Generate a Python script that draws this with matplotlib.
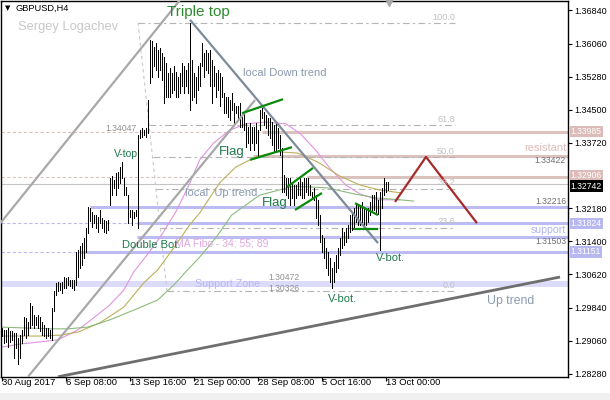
import matplotlib
matplotlib.use("Agg")
import matplotlib.pyplot as plt
from matplotlib.transforms import blended_transform_factory
from matplotlib.patches import Rectangle

plt.rcParams['font.family'] = ['Liberation Sans', 'DejaVu Sans']

# GBPUSD H4 bars, 30 Aug - 13 Oct 2017
highs = [1.2936, 1.2932, 1.2932, 1.2936, 1.2928, 1.2928, 1.2924, 1.2924, 1.2912, 1.2920,
         1.2932, 1.2963, 1.2959, 1.2951, 1.2994, 1.2987, 1.2967, 1.2963, 1.2967, 1.2963,
         1.2951, 1.2943, 1.2936, 1.2936, 1.2932, 1.2983, 1.3022, 1.3042, 1.3045, 1.3042,
         1.3045, 1.3057, 1.3053, 1.3057, 1.3049, 1.3049, 1.3049, 1.3116, 1.3120, 1.3128,
         1.3136, 1.3147, 1.3171, 1.3222, 1.3218, 1.3210, 1.3202, 1.3202, 1.3198, 1.3214,
         1.3195, 1.3191, 1.3187, 1.3191, 1.3289, 1.3293, 1.3285, 1.3300, 1.3304, 1.3316,
         1.3328, 1.3289, 1.3269, 1.3250, 1.3214, 1.3214, 1.3209, 1.3214, 1.3391, 1.3403,
         1.3406, 1.3403, 1.3406, 1.3473, 1.3614, 1.3611, 1.3599, 1.3607, 1.3591, 1.3595,
         1.3583, 1.3575, 1.3560, 1.3536, 1.3548, 1.3536, 1.3552, 1.3540, 1.3528, 1.3536,
         1.3560, 1.3552, 1.3544, 1.3560, 1.3654, 1.3567, 1.3536, 1.3528, 1.3552, 1.3560,
         1.3607, 1.3583, 1.3591, 1.3583, 1.3591, 1.3567, 1.3552, 1.3536, 1.3544, 1.3536,
         1.3528, 1.3489, 1.3481, 1.3481, 1.3473, 1.3489, 1.3465, 1.3458, 1.3458, 1.3465,
         1.3434, 1.3442, 1.3418, 1.3410, 1.3418, 1.3410, 1.3410, 1.3418, 1.3403, 1.3450,
         1.3454, 1.3445, 1.3438, 1.3431, 1.3431, 1.3421, 1.3414, 1.3421, 1.3407, 1.3391,
         1.3360, 1.3296, 1.3289, 1.3289, 1.3289, 1.3280, 1.3273, 1.3273, 1.3280, 1.3289,
         1.3280, 1.3289, 1.3289, 1.3289, 1.3273, 1.3256, 1.3266, 1.3249, 1.3238, 1.3202,
         1.3155, 1.3148, 1.3124, 1.3115, 1.3101, 1.3077, 1.3091, 1.3108, 1.3124, 1.3148,
         1.3172, 1.3162, 1.3172, 1.3179, 1.3202, 1.3209, 1.3219, 1.3226, 1.3226, 1.3226,
         1.3233, 1.3219, 1.3219, 1.3219, 1.3233, 1.3249, 1.3249, 1.3256, 1.3238, 1.3256,
         1.3266, 1.3289, 1.3280, 1.3280]
lows = [1.2916, 1.2900, 1.2904, 1.2892, 1.2904, 1.2908, 1.2865, 1.2888, 1.2851, 1.2865,
        1.2900, 1.2920, 1.2912, 1.2920, 1.2936, 1.2943, 1.2936, 1.2943, 1.2936, 1.2928,
        1.2920, 1.2916, 1.2912, 1.2916, 1.2912, 1.2908, 1.2975, 1.3014, 1.3022, 1.3026,
        1.3018, 1.3030, 1.3030, 1.3038, 1.3034, 1.3030, 1.3026, 1.3038, 1.3057, 1.3077,
        1.3085, 1.3100, 1.3116, 1.3159, 1.3187, 1.3175, 1.3183, 1.3171, 1.3163, 1.3183,
        1.3171, 1.3163, 1.3159, 1.3167, 1.3226, 1.3250, 1.3265, 1.3250, 1.3265, 1.3277,
        1.3289, 1.3250, 1.3250, 1.3183, 1.3198, 1.3179, 1.3195, 1.3200, 1.3172, 1.3383,
        1.3387, 1.3391, 1.3387, 1.3395, 1.3512, 1.3528, 1.3552, 1.3544, 1.3528, 1.3544,
        1.3520, 1.3465, 1.3481, 1.3481, 1.3481, 1.3489, 1.3497, 1.3481, 1.3481, 1.3489,
        1.3505, 1.3489, 1.3505, 1.3489, 1.3450, 1.3473, 1.3481, 1.3465, 1.3497, 1.3505,
        1.3552, 1.3528, 1.3544, 1.3536, 1.3505, 1.3465, 1.3505, 1.3481, 1.3497, 1.3458,
        1.3481, 1.3442, 1.3442, 1.3434, 1.3426, 1.3450, 1.3418, 1.3442, 1.3426, 1.3410,
        1.3410, 1.3403, 1.3363, 1.3371, 1.3355, 1.3371, 1.3355, 1.3371, 1.3340, 1.3403,
        1.3431, 1.3414, 1.3407, 1.3391, 1.3384, 1.3367, 1.3351, 1.3351, 1.3360, 1.3344,
        1.3256, 1.3256, 1.3249, 1.3242, 1.3226, 1.3242, 1.3226, 1.3242, 1.3249, 1.3249,
        1.3242, 1.3242, 1.3256, 1.3249, 1.3249, 1.3242, 1.3238, 1.3195, 1.3179, 1.3139,
        1.3115, 1.3101, 1.3077, 1.3061, 1.3044, 1.3030, 1.3044, 1.3068, 1.3077, 1.3108,
        1.3124, 1.3131, 1.3139, 1.3148, 1.3162, 1.3167, 1.3172, 1.3186, 1.3179, 1.3179,
        1.3186, 1.3172, 1.3179, 1.3186, 1.3202, 1.3209, 1.3214, 1.3209, 1.3205, 1.3120,
        1.3219, 1.3249, 1.3256, 1.3261]

# moving averages 34 / 55 / 89, sampled at bar positions
ma34_x = [0, 9, 19, 28, 38, 46, 54, 61, 66, 72, 79, 87, 93, 99, 106, 114, 122, 132,
          142, 149, 157, 164, 172, 179, 188, 199]
ma34 = [1.2891, 1.2898, 1.2903, 1.2908, 1.2931, 1.2960, 1.2990, 1.3025, 1.3068, 1.3104,
        1.3148, 1.3209, 1.3266, 1.3332, 1.3372, 1.3402, 1.3417, 1.3421, 1.3417, 1.3395,
        1.3355, 1.3313, 1.3273, 1.3252, 1.3238, 1.3238]
ma55_x = [0, 19, 29, 38, 49, 61, 71, 78, 87, 94, 99, 109, 117, 127, 138, 148, 158, 169,
          179, 189, 200]
ma55 = [1.2917, 1.2917, 1.2919, 1.2926, 1.2948, 1.2985, 1.3042, 1.3073, 1.3131, 1.3179,
        1.3207, 1.3278, 1.3315, 1.3339, 1.3351, 1.3348, 1.3327, 1.3294, 1.3273, 1.3261,
        1.3254]
ma89_x = [0, 24, 33, 43, 54, 66, 78, 86, 93, 99, 107, 115, 129, 146, 163, 176, 188, 199, 206]
ma89 = [1.2938, 1.2934, 1.2934, 1.2938, 1.2955, 1.2978, 1.3002, 1.3037, 1.3073, 1.3103,
        1.3148, 1.3202, 1.3249, 1.3270, 1.3266, 1.3252, 1.3242, 1.3238, 1.3235]

# date labels every 32 bars
date_ticks = [0, 32, 64, 96, 128, 160, 192]
date_labels = ["30 Aug 2017", "6 Sep 08:00", "13 Sep 16:00", "21 Sep 00:00",
               "28 Sep 08:00", "5 Oct 16:00", "13 Oct 00:00"]
price_ticks = [1.36840, 1.36060, 1.35280, 1.34500, 1.33720, 1.32180, 1.31400,
               1.30620, 1.29840, 1.29060, 1.28280]

# drawn objects: (bar, price) pairs
channel_top = [(-1, 1.3181), (89.2, 1.3709)]
channel_low = [(13.15, 1.2821), (126.65, 1.3473)]
down_trend = [(94.15, 1.3662), (188.15, 1.3136)]
up_trend = [(28.15, 1.2821), (279.15, 1.3056)]
flags = [[(120.15, 1.3442), (140.65, 1.3475)],
         [(124.15, 1.3332), (145.15, 1.3362)],
         [(142.65, 1.3268), (155.65, 1.3313)],
         [(146.65, 1.3214), (160.15, 1.3254)],
         [(176.65, 1.3230), (188.15, 1.3202)],
         [(175.65, 1.3169), (188.15, 1.3169)]]
projection = [(196.65, 1.3233), (212.15, 1.3339), (237.65, 1.3183)]

fibo_top, fibo_bottom = 1.3655, 1.3023
fibo_start = (68.15, 82.65)
fibo_end = 226.65
fibo_levels = [100.0, 61.8, 50.0, 38.2, 23.6, 0.0]

resist_dashed = [1.33985, 1.32906]
resist_solid = [(130.0, 1.33985), (125.65, 1.33422), (152.65, 1.32906)]
support_dashed = [1.31824, 1.31151]
support_solid = [(44.15, 1.32216), (67.65, 1.31824), (67.65, 1.31503), (39.15, 1.31151)]
zone = (1.30326, 1.30472)
bid = 1.32742

XMIN, XMAX = -0.35, 283.15
YMIN, YMAX = 1.28205, 1.37063

fig = plt.figure(figsize=(6.1, 4.0), dpi=100)
fig.patches.append(Rectangle((0, 0), 1, 7 / 400, transform=fig.transFigure,
                             facecolor='#f0f0f0', edgecolor='none'))
ax = fig.add_axes([1 / 610, 23 / 400, 567 / 610, 376 / 400])
ax.set_xlim(XMIN, XMAX)
ax.set_ylim(YMIN, YMAX)

PINK = '#dcc2be'
BLUE = '#bcbcf2'
GRN = '#1f7a4a'
SLATE = '#8a9ab0'

# horizontal levels
ax.axhspan(zone[0], zone[1], color='#dcdcfa', lw=0, zorder=1)
for p in resist_dashed:
    ax.axhline(p, color=PINK, lw=0.8, ls=(0, (3, 2)), zorder=1)
for p in support_dashed:
    ax.axhline(p, color=BLUE, lw=0.8, ls=(0, (3, 2)), zorder=1)
for x0, p in resist_solid:
    ax.plot([x0, XMAX], [p, p], color=PINK, lw=2.2, zorder=1, solid_capstyle='butt')
for x0, p in support_solid:
    ax.plot([x0, XMAX], [p, p], color=BLUE, lw=2.2, zorder=1, solid_capstyle='butt')
ax.axhline(bid, color='#c4c4c4', lw=0.8, zorder=1)

# fibo retracement
rng = fibo_top - fibo_bottom
ax.plot(fibo_start, [fibo_top, fibo_bottom], color='#c8c8c8', lw=0.8,
        ls=(0, (3, 3)), zorder=1)
for lv in fibo_levels:
    p = fibo_bottom + rng * lv / 100
    xs = fibo_start[0] + (fibo_top - p) / rng * (fibo_start[1] - fibo_start[0])
    ax.plot([xs, fibo_end], [p, p], color='#b4b4b4', lw=0.8,
            ls=(0, (6, 3, 2, 3)), zorder=1)
    ax.text(fibo_end, p + 0.0003, f"{lv:.1f}", color='#c0c0c0', fontsize=6.6,
            ha='right', va='bottom', zorder=5)

# moving averages
ax.plot(ma34_x, ma34, color='#e094e0', lw=0.8, zorder=2)
ax.plot(ma55_x, ma55, color='#bcb05a', lw=0.8, zorder=2)
ax.plot(ma89_x, ma89, color='#8cbc7c', lw=0.8, zorder=2)

# price bars
bars = list(range(len(highs)))
ax.vlines(bars, lows, highs, color='black', lw=0.72, antialiased=False, zorder=3)


def seg(points, **kw):
    xs, ys = zip(*points)
    ax.plot(xs, ys, zorder=4, solid_capstyle='butt', **kw)


seg(channel_top, color='#a8a8a8', lw=1.6)
seg(channel_low, color='#a8a8a8', lw=1.6)
seg(down_trend, color='#7d8b9b', lw=1.6)
seg(up_trend, color='#6e6e6e', lw=2.0)
for f in flags:
    seg(f, color='#0a8a0a', lw=1.6)
seg(projection, color='#a52a2a', lw=1.6)


# text annotations
def note(x, y, s, color, size, ha='left', va='center'):
    ax.text(x, y, s, color=color, fontsize=size, ha=ha, va=va, zorder=5)


note(82.65, 1.3680, "Triple top", '#2e8a2e', 11)
note(120.65, 1.3537, "local Down trend", SLATE, 8)
note(108.65, 1.3351, "Flag", GRN, 9.5)
note(130.15, 1.3230, "Flag", GRN, 9.5)
note(56.15, 1.3346, "V-top", GRN, 7.5)
note(91.65, 1.3254, "local  Up trend", SLATE, 8)
note(86.65, 1.3136, "MA Fibo - 34; 55; 89", '#e0a8e0', 7.5)
note(60.15, 1.3131, "Double Bot.", GRN, 8)
note(187.15, 1.3101, "V-bot.", GRN, 8)
note(163.15, 1.3004, "V-bot.", GRN, 8)
note(96.65, 1.3040, "Support Zone", '#b8b8f0', 7.7)
note(242.65, 1.2999, "Up trend", SLATE, 8.8)
note(67.65, 1.3407, "1.34047", '#909090', 6.2, ha='right')
note(149.15, 1.3054, "1.30472", '#909090', 6.2, ha='right')
note(149.15, 1.3030, "1.30326", '#909090', 6.2, ha='right')
note(282.2, 1.3330, "1.33422", '#707070', 6.2, ha='right')
note(282.2, 1.3235, "1.32216", '#707070', 6.2, ha='right')
note(282.2, 1.3139, "1.31503", '#707070', 6.2, ha='right')
note(282.2, 1.3360, "resistant", '#dcbcb8', 8, ha='right')
note(282.2, 1.3167, "support", '#b4b4f0', 7.6, ha='right')

fig.text(18 / 610, 1 - 27 / 400, "Sergey Logachev", color='#c8c8c8', fontsize=9.3,
         ha='left', va='center')
fig.text(16 / 610, 1 - 8 / 400, "GBPUSD,H4", color='black', fontsize=6.7,
         ha='left', va='center')
fig.text(8 / 610, 1 - 8 / 400, "\u25bc", color='black', fontsize=5,
         ha='center', va='center', family='DejaVu Sans')

# axes styling
for sp in ax.spines.values():
    sp.set_color('black')
    sp.set_linewidth(1.0)
ax.yaxis.tick_right()
ax.set_yticks(price_ticks)
ax.set_yticklabels([f"{p:.5f}" for p in price_ticks])
ax.tick_params(axis='y', direction='out', length=3, width=0.8, pad=1.5,
               labelsize=6.5, colors='black')
ax.set_xticks(date_ticks)
ax.set_xticklabels(date_labels)
ax.tick_params(axis='x', direction='out', length=3, width=0.8, pad=-2,
               labelsize=6.8, colors='black')
for lbl in ax.get_xticklabels():
    lbl.set_ha('left')

# value boxes on the price scale (the two close ones nudged apart a little)
trans = blended_transform_factory(ax.transAxes, ax.transData)
value_boxes = [(1.33985, 1.33985, '#dcbcb8'), (1.32906, 1.32946, '#dcbcb8'),
               (1.32742, 1.32700, 'black'), (1.31824, 1.31824, '#b8b8f0'),
               (1.31151, 1.31151, '#b8b8f0')]
for p, ypos, c in value_boxes:
    ax.text(1.005, ypos, f"{p:.5f}", transform=trans, color='white', fontsize=6.2,
            ha='left', va='center', clip_on=False, zorder=6,
            bbox=dict(boxstyle='square,pad=0.15', fc=c, ec='none'))

# chart shift marker
ax.plot([193.5], [YMAX - 0.0004], marker='v', color='#a8a8a8', markersize=4,
        clip_on=False, zorder=6)

fig.savefig("out.png", dpi=100)
